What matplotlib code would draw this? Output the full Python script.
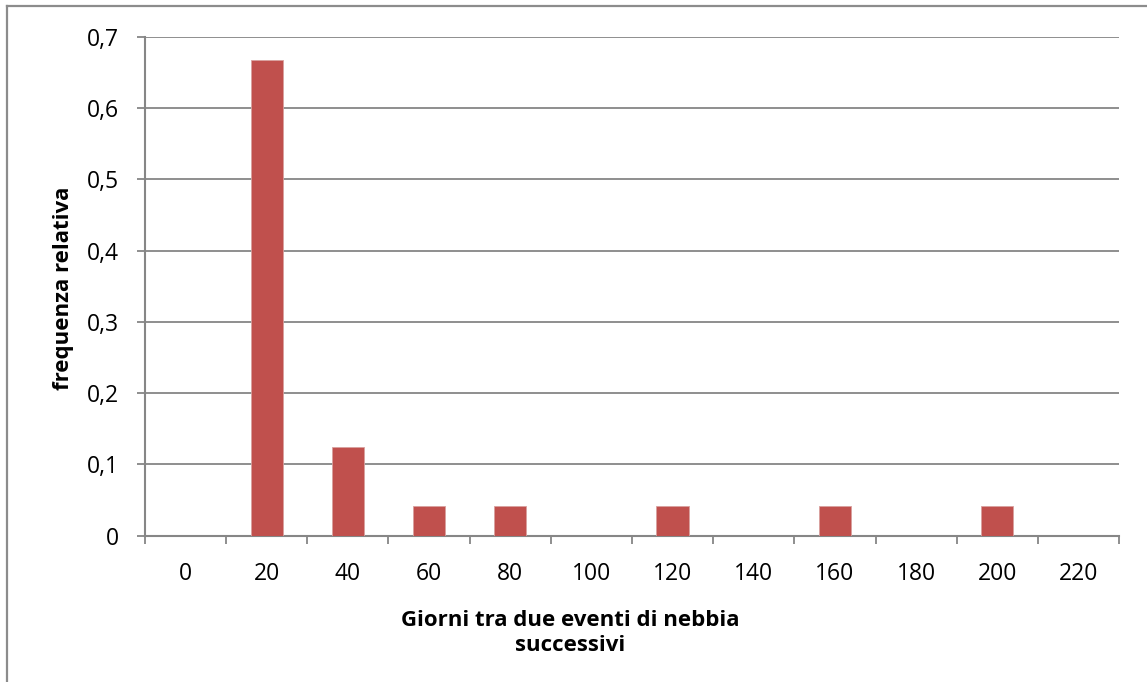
import matplotlib
matplotlib.use("Agg")
import matplotlib.pyplot as plt
from matplotlib.lines import Line2D
import numpy as np

plt.rcParams['font.family'] = ['Open Sans', 'DejaVu Sans']

categories = ["0", "20", "40", "60", "80", "100", "120", "140", "160", "180", "200", "220"]
frequenza = [0, 16/24, 3/24, 1/24, 1/24, 0, 1/24, 0, 1/24, 0, 1/24, 0]
y_ticks = [0, 0.1, 0.2, 0.3, 0.4, 0.5, 0.6, 0.7]
y_tick_labels = ["0", "0,1", "0,2", "0,3", "0,4", "0,5", "0,6", "0,7"]

W, H = 1147, 682
fig = plt.figure(figsize=(W / 100, H / 100), dpi=100)
ax = fig.add_axes([145 / W, (H - 535.7) / H, (1119 - 145) / W, (535.7 - 36.7) / H])

grey = "#868686"
x = np.arange(len(categories))
ax.bar(x, frequenza, width=0.4, color="#C0504D", edgecolor="#D9A09E", linewidth=0.6, zorder=3)

ax.set_xlim(-0.5, len(categories) - 0.5)
ax.set_ylim(0, 0.7)

# y axis
ax.set_yticks(y_ticks)
ax.set_yticklabels(y_tick_labels)
ax.yaxis.grid(True, color=grey, linewidth=1.3, zorder=0)
ax.tick_params(axis="y", direction="out", length=6, width=1.3, color=grey, pad=13, labelsize=16.5)

# x axis: ticks on category boundaries, labels at category centres
ax.set_xticks(np.arange(-0.5, len(categories), 1.0))
ax.set_xticklabels([])
ax.set_xticks(x, minor=True)
ax.set_xticklabels(categories, minor=True)
ax.tick_params(axis="x", which="major", direction="out", length=6, width=1.3, color=grey)
ax.tick_params(axis="x", which="minor", length=0, pad=19, labelsize=16.5)

for side in ["top", "right"]:
    ax.spines[side].set_visible(False)
for side in ["left", "bottom"]:
    ax.spines[side].set_color(grey)
    ax.spines[side].set_linewidth(1.5)

fig.text(570 / W, 1 - 633 / H, "Giorni tra due eventi di nebbia\nsuccessivi",
         ha="center", va="center", fontsize=16, fontweight="bold", linespacing=1.3)
fig.text(63 / W, 1 - 288 / H, "frequenza relativa", rotation=90,
         ha="center", va="center", fontsize=16, fontweight="bold")

# chart frame
fig.add_artist(Line2D([6.5 / W, 6.5 / W], [0, 1 - 6 / H], color="#8c8c8c", linewidth=1.6))
fig.add_artist(Line2D([6.5 / W, 1], [1 - 6 / H, 1 - 6 / H], color="#8c8c8c", linewidth=1.6))

fig.savefig("out.png", dpi=100)
